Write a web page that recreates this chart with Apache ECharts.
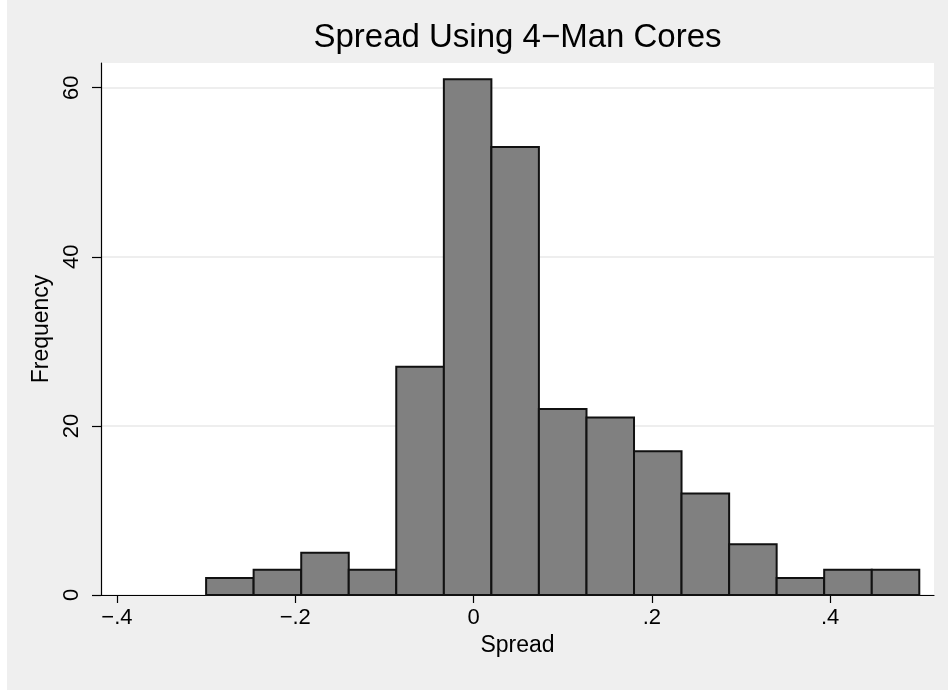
<!DOCTYPE html>
<html>
<head>
<meta charset="utf-8">
<script src="https://cdn.jsdelivr.net/npm/echarts@6/dist/echarts.min.js"></script>
<style>
  html, body { margin: 0; padding: 0; background: #ffffff; }
  #chart { position: absolute; left: 7px; top: 0; width: 941px; height: 690px; }
</style>
</head>
<body>
<div id="chart"></div>
<script>
// Histogram bin edges (15 equal bins from -0.3 to 0.5)
const binEdges = [-0.3, -0.2467, -0.1933, -0.14, -0.0867, -0.0333, 0.02, 0.0733,
                  0.1267, 0.18, 0.2333, 0.2867, 0.34, 0.3933, 0.4467, 0.5];
// Number of observations in each bin
const frequencies = [2, 3, 5, 3, 27, 61, 53, 22, 21, 17, 12, 6, 2, 3, 3];

// Axis ticks and their labels
const xTickValues = [-0.4, -0.2, 0, 0.2, 0.4];
const xTickLabels = ['\u2212.4', '\u2212.2', '0', '.2', '.4'];
const yTickValues = [0, 20, 40, 60];
const yTickLabels = ['0', '20', '40', '60'];

const titleText = 'Spread Using 4\u2212Man Cores';
const xTitle = 'Spread';
const yTitle = 'Frequency';

const bins = frequencies.map((n, i) => [binEdges[i], binEdges[i + 1], n]);

const FONT = '"Liberation Sans", Arial, Helvetica, sans-serif';
const W = 941, GL = 94, GR = 14;

const chart = echarts.init(document.getElementById('chart'), null, { renderer: 'canvas' });

chart.setOption({
  backgroundColor: '#efefef',
  animation: false,
  graphic: [{
    type: 'text',
    x: GL + (W - GL - GR) / 2,
    y: 21,
    style: {
      text: titleText,
      fill: '#000',
      font: '33px ' + FONT,
      textAlign: 'center',
      textVerticalAlign: 'top'
    }
  }],
  grid: {
    left: GL, right: GR, top: 63, bottom: 95,
    show: true, backgroundColor: '#ffffff', borderWidth: 0
  },
  xAxis: {
    type: 'value',
    min: -0.4179,
    max: 0.5165,
    name: xTitle,
    nameLocation: 'middle',
    nameGap: 37,
    nameTextStyle: { fontFamily: FONT, fontSize: 23, color: '#000' },
    axisLine: { show: true, onZero: false, lineStyle: { color: '#000', width: 1.2 } },
    axisTick: { show: true, length: 8, customValues: xTickValues, lineStyle: { color: '#000', width: 1.2 } },
    axisLabel: {
      customValues: xTickValues,
      margin: 12,
      fontFamily: FONT, fontSize: 22, color: '#000',
      formatter: v => {
        const i = xTickValues.findIndex(t => Math.abs(t - v) < 1e-9);
        return i >= 0 ? xTickLabels[i] : '';
      }
    },
    splitLine: { show: false }
  },
  yAxis: {
    type: 'value',
    min: 0,
    max: 62.92,
    name: yTitle,
    nameLocation: 'middle',
    nameRotate: 90,
    nameGap: 47,
    nameTextStyle: { fontFamily: FONT, fontSize: 23, color: '#000' },
    axisLine: { show: true, onZero: false, lineStyle: { color: '#000', width: 1.2 } },
    axisTick: { show: true, length: 9, customValues: yTickValues, lineStyle: { color: '#000', width: 1.2 } },
    axisLabel: {
      customValues: yTickValues,
      rotate: 90,
      margin: 18,
      fontFamily: FONT, fontSize: 22, color: '#000',
      formatter: v => {
        const i = yTickValues.indexOf(v);
        return i >= 0 ? yTickLabels[i] : '';
      }
    },
    splitLine: { show: true, lineStyle: { color: '#e8e8e8', width: 1.5 } }
  },
  series: [{
    type: 'custom',
    data: bins,
    encode: { x: [0, 1], y: 2 },
    renderItem: (params, api) => {
      const topLeft = api.coord([api.value(0), api.value(2)]);
      const bottomRight = api.coord([api.value(1), 0]);
      return {
        type: 'rect',
        shape: {
          x: topLeft[0],
          y: topLeft[1],
          width: bottomRight[0] - topLeft[0],
          height: bottomRight[1] - topLeft[1]
        },
        style: { fill: '#808080', stroke: '#111111', lineWidth: 2 }
      };
    }
  }]
});
</script>
</body>
</html>
